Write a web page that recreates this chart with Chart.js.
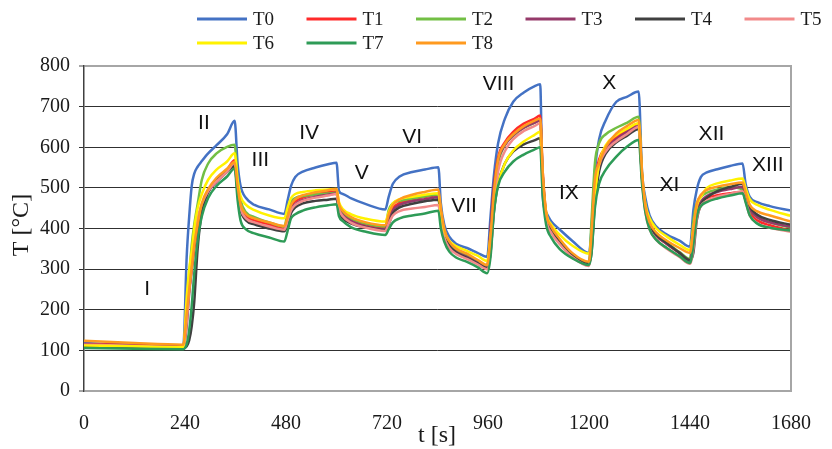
<!DOCTYPE html>
<html><head><meta charset="utf-8">
<script src="https://cdn.jsdelivr.net/npm/chart.js@4.4.1/dist/chart.umd.min.js"></script>
<style>html,body{margin:0;padding:0;background:#fff;} #wrap{width:832px;height:449px;}</style>
</head><body><div id="wrap"><canvas id="c" width="832" height="449"></canvas></div>
<script>
// time [s]
const times = [0,120,236,244,250,256,262,270,280,295,
315,340,358,365,372,385,405,440,476,484,
492,502,520,550,580,600,606,615,635,670,
716,724,734,750,780,810,842,848,856,868,
885,910,935,958,966,974,984,1000,1020,1045,
1070,1084,1090,1098,1110,1130,1160,1200,1206,1214,
1224,1240,1265,1290,1318,1326,1334,1344,1360,1385,
1415,1440,1448,1456,1466,1480,1505,1535,1565,1572,
1582,1600,1630,1680];

const T0 = [118,114,112,330,430,505,535,552,566,585,
605,632,665,560,505,475,458,447,436,470,
505,527,540,550,558,562,492,485,474,460,
447,478,510,528,539,545,551,462,410,380,
362,352,340,330,430,530,610,670,712,735,
750,755,480,440,418,398,370,340,400,540,
620,667,712,724,737,540,475,432,405,385,
370,355,445,495,527,538,546,554,560,511,
478,465,455,444];

const T1 = [116,113,110,190,250,300,350,400,450,490,
520,545,568,500,455,430,420,410,400,425,
455,467,476,484,489,492,455,438,422,410,
402,425,450,463,472,478,482,440,392,362,
345,333,318,305,390,500,575,612,638,658,
670,678,540,440,400,370,337,313,380,510,
570,600,625,642,658,530,450,410,383,362,
340,322,380,440,465,475,482,487,490,470,
440,420,408,395];

const T2 = [112,110,108,190,280,360,410,460,520,560,
585,601,606,520,470,440,428,415,405,440,
465,475,480,484,486,488,455,440,425,412,
405,445,462,468,474,479,484,440,390,362,
345,333,320,308,380,480,560,605,628,648,
660,667,530,430,395,368,335,315,420,560,
610,632,648,660,675,530,450,410,385,365,
342,325,420,462,478,488,496,502,495,470,
445,428,415,402];

const T3 = [115,112,110,160,240,300,360,420,455,490,
515,540,560,495,450,425,413,404,395,420,
448,460,470,478,483,486,450,433,418,405,
398,420,445,458,467,472,477,430,385,358,
342,330,316,303,400,510,570,605,630,648,
660,665,530,435,398,368,335,312,370,500,
560,595,620,638,652,525,448,408,382,362,
340,320,375,440,466,480,490,497,502,480,
448,428,415,404];

const T4 = [110,108,106,110,125,160,220,350,440,490,
520,540,553,490,445,420,410,400,393,410,
438,452,462,468,471,473,440,425,412,403,
396,410,438,452,461,467,471,430,385,358,
340,328,314,302,340,440,510,560,590,607,
617,622,520,430,395,368,337,315,340,460,
540,585,612,628,645,525,450,410,385,364,
340,322,340,420,460,476,492,502,510,490,
455,434,421,409];

const T5 = [114,111,108,170,250,310,370,425,460,492,
516,540,562,495,450,425,415,405,397,420,
445,458,468,476,481,485,448,430,414,402,
394,412,432,443,449,453,458,420,378,352,
337,325,312,300,340,450,540,590,620,640,
652,659,520,425,390,362,330,308,360,490,
555,590,615,632,650,520,440,398,372,350,
330,313,350,425,455,468,478,485,492,468,
432,413,402,392];

const T6 = [112,110,108,230,300,345,400,450,485,520,
545,565,585,520,480,458,445,432,425,452,
475,485,490,494,496,497,465,448,435,424,
417,440,462,472,478,483,487,440,395,370,
356,345,333,320,380,450,510,560,592,614,
630,638,520,440,410,385,358,338,380,480,
560,605,630,645,659,530,460,425,400,380,
360,347,400,455,478,500,511,518,523,500,
472,458,446,431];

const T7 = [106,104,103,115,150,210,290,370,430,475,
505,528,548,470,420,398,388,378,368,395,
425,435,444,452,457,460,430,418,403,392,
384,398,415,425,432,437,444,400,368,343,
328,318,305,290,330,440,505,540,565,582,
594,600,480,410,378,350,327,310,340,450,
510,545,577,601,618,510,440,398,372,352,
332,315,360,430,455,465,474,481,487,465,
432,412,402,395];

const T8 = [124,118,114,190,250,305,360,410,462,497,
525,547,564,505,460,435,425,415,406,430,
458,472,482,489,494,497,460,443,428,415,
408,435,458,472,483,490,496,450,400,368,
350,338,323,310,380,490,570,608,632,652,
665,671,540,440,405,375,340,318,390,520,
560,601,634,652,667,540,455,415,390,370,
352,340,400,460,483,495,503,509,513,490,
458,442,432,417];

const seriesNames = ['T0','T1','T2','T3','T4','T5','T6','T7','T8'];
const seriesValues = [T0,T1,T2,T3,T4,T5,T6,T7,T8];
const seriesColors = ['#4472C4','#FF2A2A','#72BF44','#953A6A','#404040','#F28A8A','#FFF200','#2E9B57','#FF9A1F'];
const drawOrder = [8,7,6,5,4,3,2,1,0];

const phaseLabels = ['I','II','III','IV','V','VI','VII','VIII','IX','X','XI','XII','XIII'];
const phaseTime   = [150,285,419,535,660,780,903,985,1152,1248,1391,1491,1625];
const phaseTemp   = [251,660,569,634,537,624,454,755,487,757,507,633,556];

const serif = '"Liberation Serif","Times New Roman",serif';
const sans = '"Liberation Sans",Arial,sans-serif';

const datasets = seriesNames.map((name, i) => ({
  label: name,
  data: times.map((t, k) => ({x: t, y: seriesValues[i][k]})),
  borderColor: seriesColors[i],
  backgroundColor: seriesColors[i],
  borderWidth: 2.5,
  pointRadius: 0,
  fill: false,
  cubicInterpolationMode: 'monotone',
  order: drawOrder[i]
}));

const decor = {
  id: 'decor',
  afterDraw(chart) {
    const {ctx, chartArea: a, scales: {x, y}} = chart;
    ctx.save();
    // right frame
    ctx.strokeStyle = '#a6a6a6';
    ctx.lineWidth = 2;
    ctx.beginPath();
    ctx.moveTo(a.right, a.top - 1);
    ctx.lineTo(a.right, a.bottom + 1);
    ctx.stroke();
    // phase labels
    ctx.fillStyle = '#111';
    ctx.font = '21px ' + sans;
    ctx.textAlign = 'center';
    ctx.textBaseline = 'middle';
    phaseLabels.forEach((lab, i) => {
      ctx.fillText(lab, x.getPixelForValue(phaseTime[i]), y.getPixelForValue(phaseTemp[i]));
    });
    // axis titles
    ctx.font = '24px ' + serif;
    ctx.fillStyle = '#1a1a1a';
    ctx.fillText('t [s]', 437, 436);
    ctx.save();
    ctx.translate(22, 225);
    ctx.rotate(-Math.PI / 2);
    ctx.fillText('T [\u00B0C]', 0, 0);
    ctx.restore();
    // legend
    ctx.font = '19px ' + serif;
    ctx.textAlign = 'left';
    chart.data.datasets.forEach((ds, i) => {
      const col = i % 6, row = Math.floor(i / 6);
      const lx = 197 + col * 109.5;
      const ly = 19 + row * 24;
      ctx.strokeStyle = ds.borderColor;
      ctx.lineWidth = 3;
      ctx.beginPath();
      ctx.moveTo(lx, ly);
      ctx.lineTo(lx + 50, ly);
      ctx.stroke();
      ctx.fillStyle = '#1a1a1a';
      ctx.fillText(ds.label, lx + 56, ly + 1);
    });
    ctx.restore();
  }
};

new Chart(document.getElementById('c'), {
  type: 'line',
  data: {datasets},
  options: {
    responsive: false,
    animation: false,
    devicePixelRatio: 1,
    layout: {padding: {top: 66, right: 22, left: 0, bottom: 0}},
    plugins: {legend: {display: false}, tooltip: {enabled: false}},
    scales: {
      x: {
        type: 'linear', min: 0, max: 1680,
        afterFit: s => { s.height = 58; },
        ticks: {stepSize: 240, font: {family: serif, size: 20}, color: '#1a1a1a', padding: 21, maxRotation: 0,
                callback: v => String(v)},
        grid: {display: false, drawTicks: false},
        border: {display: false}
      },
      y: {
        min: 0, max: 800,
        afterFit: s => { s.width = 84; },
        ticks: {stepSize: 100, font: {family: serif, size: 20}, color: '#1a1a1a', padding: 9,
                callback: v => String(v)},
        grid: {
          color: c => (c.tick && (c.tick.value === 0 || c.tick.value === 800)) ? '#a6a6a6' : '#303030',
          lineWidth: c => (c.tick && (c.tick.value === 0 || c.tick.value === 800)) ? 2 : 1,
          tickLength: 5
        },
        border: {display: true, color: '#404040', width: 1.5}
      }
    }
  },
  plugins: [decor]
});
</script>
</body></html>
